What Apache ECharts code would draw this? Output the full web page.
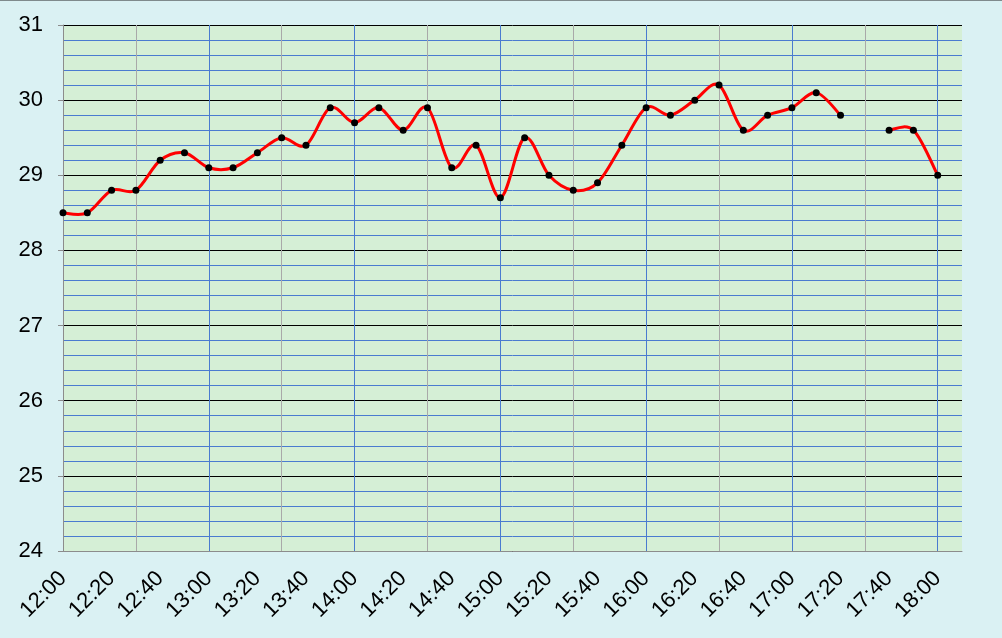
<!DOCTYPE html>
<html>
<head>
<meta charset="utf-8">
<script src="https://cdn.jsdelivr.net/npm/echarts@6/dist/echarts.min.js"></script>
<style>
html,body{margin:0;padding:0;background:#DAF1F3;}
#c{width:1002px;height:638px;}
</style>
</head>
<body>
<div id="c"></div>
<script>
// Time categories (every 10 minutes) plus one empty padding slot on the right
const times = ["12:00","12:10","12:20","12:30","12:40","12:50",
  "13:00","13:10","13:20","13:30","13:40","13:50",
  "14:00","14:10","14:20","14:30","14:40","14:50",
  "15:00","15:10","15:20","15:30","15:40","15:50",
  "16:00","16:10","16:20","16:30","16:40","16:50",
  "17:00","17:10","17:20","17:30","17:40","17:50",
  "18:00",""];
// Temperature readings (null = missing reading)
const values = [28.5,28.5,28.8,28.8,29.2,29.3,
  29.1,29.1,29.3,29.5,29.4,29.9,
  29.7,29.9,29.6,29.9,29.1,29.4,
  28.7,29.5,29.0,28.8,28.9,29.4,
  29.9,29.8,30.0,30.2,29.6,29.8,
  29.9,30.1,29.8,null,29.6,29.6,
  29.0,null];
const yTicks = {min:24, max:31, step:1};

const FONT = 'Liberation Sans, Arial, sans-serif';
const has = i => i >= 0 && i < values.length && values[i] !== null && values[i] !== undefined;

const chart = echarts.init(document.getElementById('c'), null, {renderer:'canvas'});
chart.setOption({
  backgroundColor:'#DAF1F3',
  animation:false,
  graphic:[{type:'rect', shape:{x:0,y:0,width:1002,height:1}, style:{fill:'#7F8A8C'}}],
  grid:{left:63, right:40, top:25, bottom:87, show:true, backgroundColor:'#D5EFD6', borderWidth:0},
  xAxis:{
    type:'category',
    data:times,
    boundaryGap:false,
    axisLine:{show:true, lineStyle:{color:'#8C8C8C', width:1}},
    axisTick:{show:false},
    axisLabel:{
      interval:function(i){return i%2===0;},
      rotate:45, margin:24,
      fontFamily:FONT, fontSize:22, color:'#000'
    },
    splitLine:{
      show:true,
      interval:function(i){return i%3===0;},
      lineStyle:{color:['#4A7BD0','#A9A9A9'], width:1}
    }
  },
  yAxis:{
    type:'value',
    min:yTicks.min, max:yTicks.max, interval:yTicks.step,
    axisLine:{show:true, lineStyle:{color:'#8C8C8C', width:1}},
    axisTick:{show:true, length:5, lineStyle:{color:'#8C8C8C'}},
    axisLabel:{margin:20, fontFamily:FONT, fontSize:22, color:'#000'},
    splitLine:{show:true, lineStyle:{color:'#000', width:1}},
    minorTick:{show:false, splitNumber:5},
    minorSplitLine:{show:true, lineStyle:{color:'#4A7BD0', width:1}}
  },
  series:[{
    type:'custom',
    clip:true,
    z:2,
    data:values.map((v,i)=>[i, v === null ? 0 : v]),
    renderItem:function(params, api){
      const i = params.dataIndex;
      if (!has(i) || !has(i+1)) return null;
      const p = k => api.coord([k, values[k]]);
      const P1 = p(i), P2 = p(i+1);
      const P0 = has(i-1) ? p(i-1) : P1;
      const P3 = has(i+2) ? p(i+2) : P2;
      return {
        type:'bezierCurve',
        shape:{
          x1:P1[0], y1:P1[1], x2:P2[0], y2:P2[1],
          cpx1:P1[0] + (P2[0]-P0[0])/6, cpy1:P1[1] + (P2[1]-P0[1])/6,
          cpx2:P2[0] - (P3[0]-P1[0])/6, cpy2:P2[1] - (P3[1]-P1[1])/6
        },
        style:{stroke:'#FF0000', lineWidth:3, fill:null, lineCap:'round'}
      };
    }
  },{
    type:'scatter',
    z:3,
    data:values,
    symbol:'circle',
    symbolSize:7,
    itemStyle:{color:'#000', borderWidth:0, opacity:1}
  }]
});
</script>
</body>
</html>
